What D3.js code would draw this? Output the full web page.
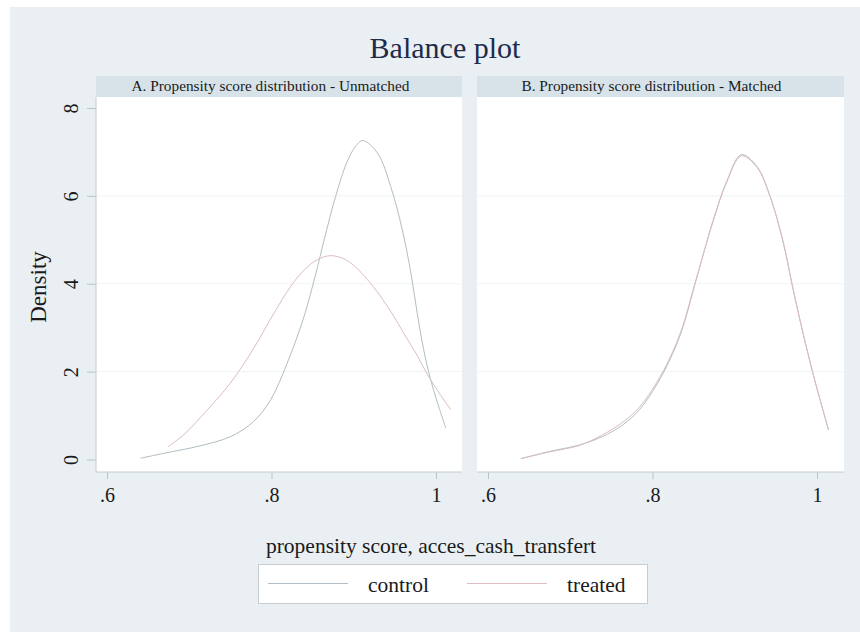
<!DOCTYPE html>
<html>
<head>
<meta charset="utf-8">
<script src="https://cdn.jsdelivr.net/npm/d3@7"></script>
<style>
  body { margin: 0; background: #fff; }
  svg text { font-family: "Liberation Serif", "DejaVu Serif", serif; }
</style>
</head>
<body>
<svg id="chart" width="860" height="632"></svg>
<script>
// kernel density curves: [propensity score, density]
const controlUnmatched = [
  [0.641, 0.03], [0.669, 0.14], [0.713, 0.31], [0.750, 0.52], [0.778, 0.86],
  [0.799, 1.36], [0.819, 2.19], [0.839, 3.22], [0.854, 4.24], [0.864, 5.00],
  [0.878, 5.99], [0.892, 6.78], [0.902, 7.12], [0.911, 7.26], [0.929, 6.97],
  [0.945, 6.21], [0.959, 5.23], [0.969, 4.30], [0.977, 3.35], [0.985, 2.50],
  [0.993, 1.85], [1.002, 1.28], [1.012, 0.71]
];
const treatedUnmatched = [
  [0.674, 0.29], [0.693, 0.56], [0.722, 1.13], [0.750, 1.74], [0.778, 2.52],
  [0.803, 3.33], [0.823, 3.93], [0.839, 4.30], [0.856, 4.55], [0.872, 4.64],
  [0.890, 4.55], [0.905, 4.33], [0.920, 4.02], [0.935, 3.65], [0.949, 3.25],
  [0.960, 2.90], [0.978, 2.34], [0.990, 1.92], [1.004, 1.51], [1.018, 1.13]
];
const controlMatched = [
  [0.640, 0.02], [0.674, 0.18], [0.711, 0.33], [0.739, 0.52], [0.764, 0.79],
  [0.784, 1.13], [0.805, 1.70], [0.821, 2.27], [0.835, 2.90], [0.853, 4.08],
  [0.874, 5.46], [0.890, 6.32], [0.908, 6.94], [0.927, 6.67], [0.943, 5.99],
  [0.959, 4.93], [0.971, 3.86], [0.983, 2.87], [0.996, 1.89], [1.014, 0.67]
];
const treatedMatched = [
  [0.640, 0.02], [0.674, 0.17], [0.711, 0.32], [0.739, 0.56], [0.764, 0.85],
  [0.784, 1.19], [0.805, 1.75], [0.821, 2.31], [0.835, 2.94], [0.853, 4.10],
  [0.874, 5.44], [0.890, 6.30], [0.908, 6.91], [0.927, 6.65], [0.943, 5.98],
  [0.959, 4.95], [0.971, 3.88], [0.983, 2.88], [0.996, 1.90], [1.014, 0.68]
];

const xTicks = [0.6, 0.8, 1];
const yTicks = [0, 2, 4, 6, 8];
const gridTicks = [2, 4, 6];
const panelTitles = ["A. Propensity score distribution - Unmatched", "B. Propensity score distribution - Matched"];
const seriesNames = ["control", "treated"];
const seriesColors = ["#b2bec3", "#dcbdc0"];

const svg = d3.select("#chart");

// outer graph region
svg.append("rect").attr("x", 10).attr("y", 7).attr("width", 850).attr("height", 625).attr("fill", "#e9eff2");

svg.append("text")
  .attr("x", 445).attr("y", 58)
  .attr("text-anchor", "middle")
  .style("font-size", "30px")
  .attr("fill", "#1d2b4c")
  .text("Balance plot");

const plotTop = 97, plotBottom = 472;
const y = d3.scaleLinear().domain([0, 8]).range([459.5, 108]);

const panels = [
  {left: 96, right: 462, series: [controlUnmatched, treatedUnmatched], showY: true},
  {left: 477, right: 844, series: [controlMatched, treatedMatched], showY: false}
];

const line = d3.line().curve(d3.curveCatmullRom.alpha(0.5));

panels.forEach((p, i) => {
  const x = d3.scaleLinear().domain([0.6, 1]).range([p.left + 11, p.left + 340]);
  const g = svg.append("g");

  // strip with panel title
  g.append("rect").attr("x", p.left).attr("y", 76).attr("width", p.right - p.left).attr("height", plotTop - 76).attr("fill", "#d8e3e9");
  g.append("text")
    .attr("x", (x(0.6) + x(1)) / 2 - 1).attr("y", 91)
    .attr("text-anchor", "middle")
    .style("font-size", "15.3px")
    .attr("fill", "#1a1a1a")
    .text(panelTitles[i]);

  g.append("rect").attr("x", p.left).attr("y", plotTop).attr("width", p.right - p.left).attr("height", plotBottom - plotTop).attr("fill", "#fff");

  g.selectAll(".grid").data(gridTicks).enter().append("line")
    .attr("x1", p.left).attr("x2", p.right)
    .attr("y1", d => y(d)).attr("y2", d => y(d))
    .attr("stroke", "#f0f3f5");

  // x axis
  const xAxis = g.append("g").attr("transform", `translate(0,${plotBottom})`)
    .call(d3.axisBottom(x).tickValues(xTicks).tickSize(7).tickFormat(d => d === 1 ? "1" : String(d).replace(/^0/, "")));
  xAxis.select(".domain").remove();
  xAxis.selectAll("line").attr("stroke", "#b9c3c8");
  xAxis.selectAll("text").attr("y", 30).attr("dy", 0).attr("fill", "#1a1a1a")
    .style("font-size", "20px").style("font-family", "'Liberation Serif', serif");
  g.append("line").attr("x1", p.left).attr("x2", p.right).attr("y1", plotBottom).attr("y2", plotBottom).attr("stroke", "#c3ccd0");

  if (p.showY) {
    const yAxis = g.append("g").attr("transform", `translate(${p.left},0)`)
      .call(d3.axisLeft(y).tickValues(yTicks).tickSize(9).tickFormat(d3.format("d")));
    yAxis.select(".domain").remove();
    yAxis.selectAll("line").attr("stroke", "#b9c3c8");
    yAxis.selectAll("text")
      .attr("x", 0).attr("y", -18).attr("dy", 0)
      .attr("transform", "rotate(-90)")
      .attr("text-anchor", "middle")
      .attr("fill", "#1a1a1a")
      .style("font-size", "20px").style("font-family", "'Liberation Serif', serif");
    g.append("line").attr("x1", p.left).attr("x2", p.left).attr("y1", plotTop).attr("y2", plotBottom).attr("stroke", "#c3ccd0");
  }

  p.series.forEach((s, k) => {
    g.append("path")
      .attr("d", line(s.map(d => [x(d[0]), y(d[1])])))
      .attr("fill", "none")
      .attr("stroke", seriesColors[k])
      .attr("stroke-width", 1);
  });
});

svg.append("text")
  .attr("transform", "translate(46,287) rotate(-90)")
  .attr("text-anchor", "middle")
  .style("font-size", "23px")
  .attr("fill", "#1a1a1a")
  .text("Density");

svg.append("text")
  .attr("x", 431).attr("y", 553)
  .attr("text-anchor", "middle")
  .style("font-size", "21.5px")
  .attr("fill", "#1a1a1a")
  .text("propensity score, acces_cash_transfert");

// legend
const legend = svg.append("g");
legend.append("rect").attr("x", 258.5).attr("y", 564.5).attr("width", 389).attr("height", 39)
  .attr("fill", "#fff").attr("stroke", "#c8cccf");
const legendLineX = [268, 467];
const legendTextX = [368, 567];
seriesNames.forEach((name, k) => {
  legend.append("line")
    .attr("x1", legendLineX[k]).attr("x2", legendLineX[k] + 80)
    .attr("y1", 583.5).attr("y2", 583.5)
    .attr("stroke", seriesColors[k]).attr("stroke-width", 1);
  legend.append("text")
    .attr("x", legendTextX[k]).attr("y", 592)
    .style("font-size", "21.5px")
    .attr("fill", "#1a1a1a")
    .text(name);
});
</script>
</body>
</html>
